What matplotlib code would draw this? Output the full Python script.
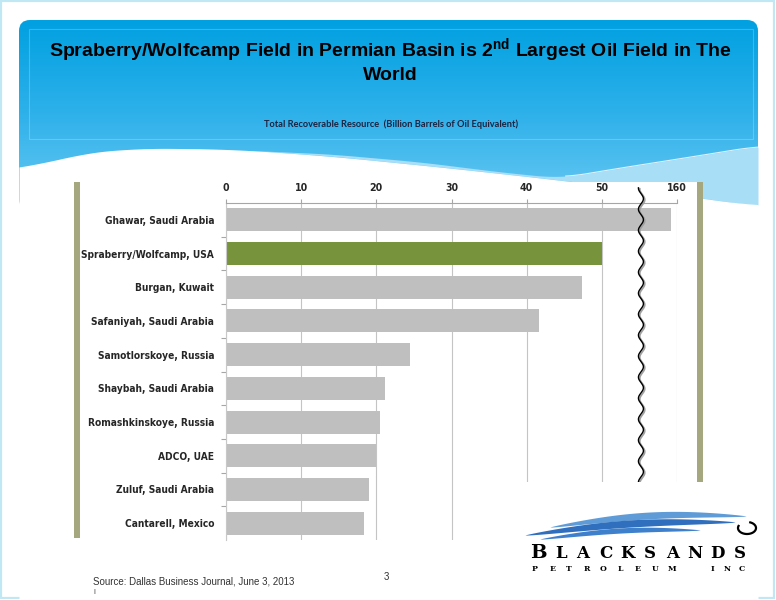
import numpy as np
import matplotlib
matplotlib.use("Agg")
import matplotlib.pyplot as plt
from matplotlib.patches import FancyBboxPatch, Rectangle
from matplotlib.colors import LinearSegmentedColormap
from matplotlib import transforms

# ---------------- data ----------------
fields = ["Ghawar, Saudi Arabia", "Spraberry/Wolfcamp, USA", "Burgan, Kuwait",
          "Safaniyah, Saudi Arabia", "Samotlorskoye, Russia", "Shaybah, Saudi Arabia",
          "Romashkinskoye, Russia", "ADCO, UAE", "Zuluf, Saudi Arabia", "Cantarell, Mexico"]
resources = [159.2, 50.0, 47.3, 41.6, 24.5, 21.2, 20.5, 20.0, 19.0, 18.4]
bar_colors = ["#bfbfbf", "#77933c", "#bfbfbf", "#bfbfbf", "#bfbfbf",
              "#bfbfbf", "#bfbfbf", "#bfbfbf", "#bfbfbf", "#bfbfbf"]
tick_values = [0, 10, 20, 30, 40, 50, 160]
tick_labels = ["0", "10", "20", "30", "40", "50", "160"]

plt.rcParams['mathtext.fontset'] = 'custom'
plt.rcParams['mathtext.rm'] = 'Liberation Sans:bold'
plt.rcParams['mathtext.bf'] = 'Liberation Sans:bold'

W, H = 776, 600
fig = plt.figure(figsize=(W / 100, H / 100), dpi=100)
fig.patch.set_facecolor("white")

# ---------------- slide background ----------------
bg = fig.add_axes([0, 0, 1, 1])
bg.set_xlim(0, W)
bg.set_ylim(H, 0)
bg.axis("off")

bg.add_patch(Rectangle((0.8, 0.8), W - 2.6, H - 2.6, fill=False,
                       edgecolor="#bfe7f4", lw=1.6, zorder=0.5))

grad = np.linspace(0, 1, 256).reshape(-1, 1)
cmap = LinearSegmentedColormap.from_list("hdr", ["#00a0e1", "#2fb1ea", "#6ccaf3"])
im = bg.imshow(grad, extent=[19, 758, 210, 20], cmap=cmap, aspect="auto",
               zorder=1, interpolation="bilinear")
clip = FancyBboxPatch((19, 20), 739, 190, boxstyle="round,pad=0,rounding_size=11",
                      facecolor="none", edgecolor="none", transform=bg.transData)
bg.add_patch(clip)
im.set_clip_path(clip)

bg.add_patch(Rectangle((29, 29), 724, 110, fill=False,
                       edgecolor=(1, 1, 1, 0.22), lw=0.8, zorder=2))


def smooth(x, px, py, win=45):
    y = np.interp(x, px, py)
    pad = np.concatenate([np.full(win, y[0]), y, np.full(win, y[-1])])
    k = np.ones(win) / win
    return np.convolve(pad, k, mode="same")[win:-win]


xs = np.linspace(19, 758, 400)
wave_x = [19, 70, 130, 230, 330, 450, 550, 650, 758]
wave_y = [170, 155, 148, 149, 156, 168, 179, 191, 206]
band_x = [240, 330, 420, 500, 560, 620, 690, 758]
band_y = [150, 154, 162, 172, 178, 168, 157, 146]
white_top = smooth(xs, wave_x, wave_y)
xb = np.linspace(240, 758, 300)
band_top = smooth(xb, band_x, band_y, 30)
band_bot = smooth(xb, wave_x, wave_y, 30)
bg.fill_between(xb, band_top, band_bot, where=band_top < band_bot,
                color="#a9def7", lw=0, zorder=2.2)
bg.plot(xb[xb > 565], band_top[xb > 565], color="white", lw=0.8, alpha=0.8, zorder=2.3)
bg.fill_between(xs, white_top, 600, color="white", lw=0, zorder=2.5)

# titles
bg.text(390, 51, r"Spraberry/Wolfcamp Field in Permian Basin is 2$^{\mathrm{nd}}$ Largest Oil Field in The",
        ha="center", va="center", fontsize=14, fontweight="bold",
        family="Liberation Sans", color="black", zorder=3)
bg.text(390, 76, "World", ha="center", va="center", fontsize=14, fontweight="bold",
        family="Liberation Sans", color="black", zorder=3)
bg.text(391, 124, "Total Recoverable Resource  (Billion Barrels of Oil Equivalent)",
        ha="center", va="center", fontsize=6.7, fontweight="bold", family="Lato",
        color="#1c2340", zorder=3)

# chart picture frame
bg.add_patch(Rectangle((74, 182), 629, 356, facecolor="white", edgecolor="none", zorder=3))
bg.add_patch(Rectangle((74, 182), 6, 356, facecolor="#a5a77f", edgecolor="none", zorder=3.1))
bg.add_patch(Rectangle((697, 182), 6, 356, facecolor="#a5a77f", edgecolor="none", zorder=3.1))

# footer
bg.text(93, 581, "Source: Dallas Business Journal, June 3, 2013", ha="left", va="center",
        fontsize=7.05, family="Liberation Sans", color="#333333", zorder=3)
bg.text(93, 593, "I", ha="left", va="center", fontsize=5, family="Liberation Sans",
        color="#333333", zorder=3)
bg.text(386, 577, "3", ha="center", va="center", fontsize=7, family="Liberation Sans",
        color="#333333", zorder=3)

# ---------------- chart ----------------
ax = fig.add_axes([226 / W, 1 - 540 / H, 451 / W, 337 / H])
ax.set_zorder(5)
ax.patch.set_alpha(0)


def fwd(x):
    x = np.asarray(x, dtype=float)
    return np.where(x <= 56, x, x - 100)


def inv(y):
    y = np.asarray(y, dtype=float)
    return np.where(y <= 56, y, y + 100)


ax.set_xscale("function", functions=(fwd, inv))
ypos = np.arange(len(fields))
ax.barh(ypos, resources, height=0.68, color=bar_colors, zorder=2)
ax.set_xlim(0, 160)
ax.set_ylim(len(fields) - 0.5, -0.5)

ax.xaxis.tick_top()
ax.set_xticks(tick_values)
ax.set_xticklabels(tick_labels)
ax.xaxis.set_minor_locator(matplotlib.ticker.NullLocator())
ax.tick_params(axis="x", which="major", length=3, color="#a6a6a6", width=0.8,
               pad=4, labelsize=7.6, labelcolor="#262626")
ax.set_yticks(ypos)
ax.set_yticklabels(fields)
ax.set_yticks(np.arange(0.5, len(fields) - 1, 1), minor=True)
ax.tick_params(axis="y", which="major", length=0, pad=8.5, labelsize=7.3, labelcolor="#262626")
ax.tick_params(axis="y", which="minor", length=3.5, color="#a6a6a6", width=0.8)
for lab in ax.get_xticklabels() + ax.get_yticklabels():
    lab.set_fontweight("bold")
    lab.set_fontstretch("condensed")
    lab.set_family("DejaVu Sans")

ax.grid(axis="x", color="#c4c4c4", lw=0.8, zorder=0)
ax.set_axisbelow(True)
for s in ["right", "bottom"]:
    ax.spines[s].set_visible(False)
ax.spines["top"].set_color("#a6a6a6")
ax.spines["top"].set_linewidth(0.8)
ax.spines["left"].set_color("#c8c8c8")
ax.spines["left"].set_linewidth(0.8)

# axis break marker (wavy line)
t = np.linspace(0, 1.045, 900)
ywave_px = t * 337.0
xw = 55.2 / 60 + (2.5 / 451) * np.sin(2 * np.pi * ywave_px / 21.0)
shadow = transforms.offset_copy(ax.transAxes, fig=fig, x=1.3, y=-1.0, units="dots")
ax.plot(xw, t, color="#a0a0a0", lw=1.3, transform=shadow, clip_on=False, zorder=4)
ax.plot(xw, t, color="black", lw=1.0, transform=ax.transAxes, clip_on=False, zorder=5)

# ---------------- logo box ----------------
lg = fig.add_axes([0, 0, 1, 1])
lg.set_zorder(6)
lg.patch.set_alpha(0)
lg.set_xlim(0, W)
lg.set_ylim(H, 0)
lg.axis("off")
lg.add_patch(Rectangle((480, 482), 292, 114, facecolor="white", edgecolor="none"))


def swoosh(x0, x1, yc0, yc1, bump, tmax, color):
    xx = np.linspace(x0, x1, 200)
    u = (xx - x0) / (x1 - x0)
    yc = yc0 + (yc1 - yc0) * u - bump * np.sin(np.pi * u)
    th = tmax * np.sin(np.pi * u) ** 0.7
    lg.fill_between(xx, yc - th, yc + th, color=color, lw=0)


swoosh(550, 746, 527, 516, 6, 3.4, "#5f9bd7")
swoosh(525, 735, 535, 522, 5, 3.6, "#2f6fbd")
swoosh(540, 700, 539, 530, 4, 2.6, "#3f80cc")
tt = np.linspace(-1.2, np.pi + 0.35, 100)
lg.plot(747 + 9 * np.cos(tt), 528 + 6 * np.sin(tt), color="black", lw=1.6)

for i, ch in enumerate("BLACKSANDS"):
    lg.text(538.3 + i * 22.4, 558, ch, ha="center", va="baseline",
            fontsize=14 if i == 0 else 12, fontweight="bold",
            family="DejaVu Serif", color="black")
for i, ch in enumerate("PETROLEUM"):
    lg.text(535 + i * 17.1, 571, ch, ha="center", va="baseline", fontsize=5.6,
            fontweight="bold", family="DejaVu Serif", color="black")
for i, ch in enumerate("INC"):
    lg.text(712 + i * 15, 571, ch, ha="center", va="baseline", fontsize=5.6,
            fontweight="bold", family="DejaVu Serif", color="black")

fig.savefig("out.png", dpi=100, facecolor="white")
